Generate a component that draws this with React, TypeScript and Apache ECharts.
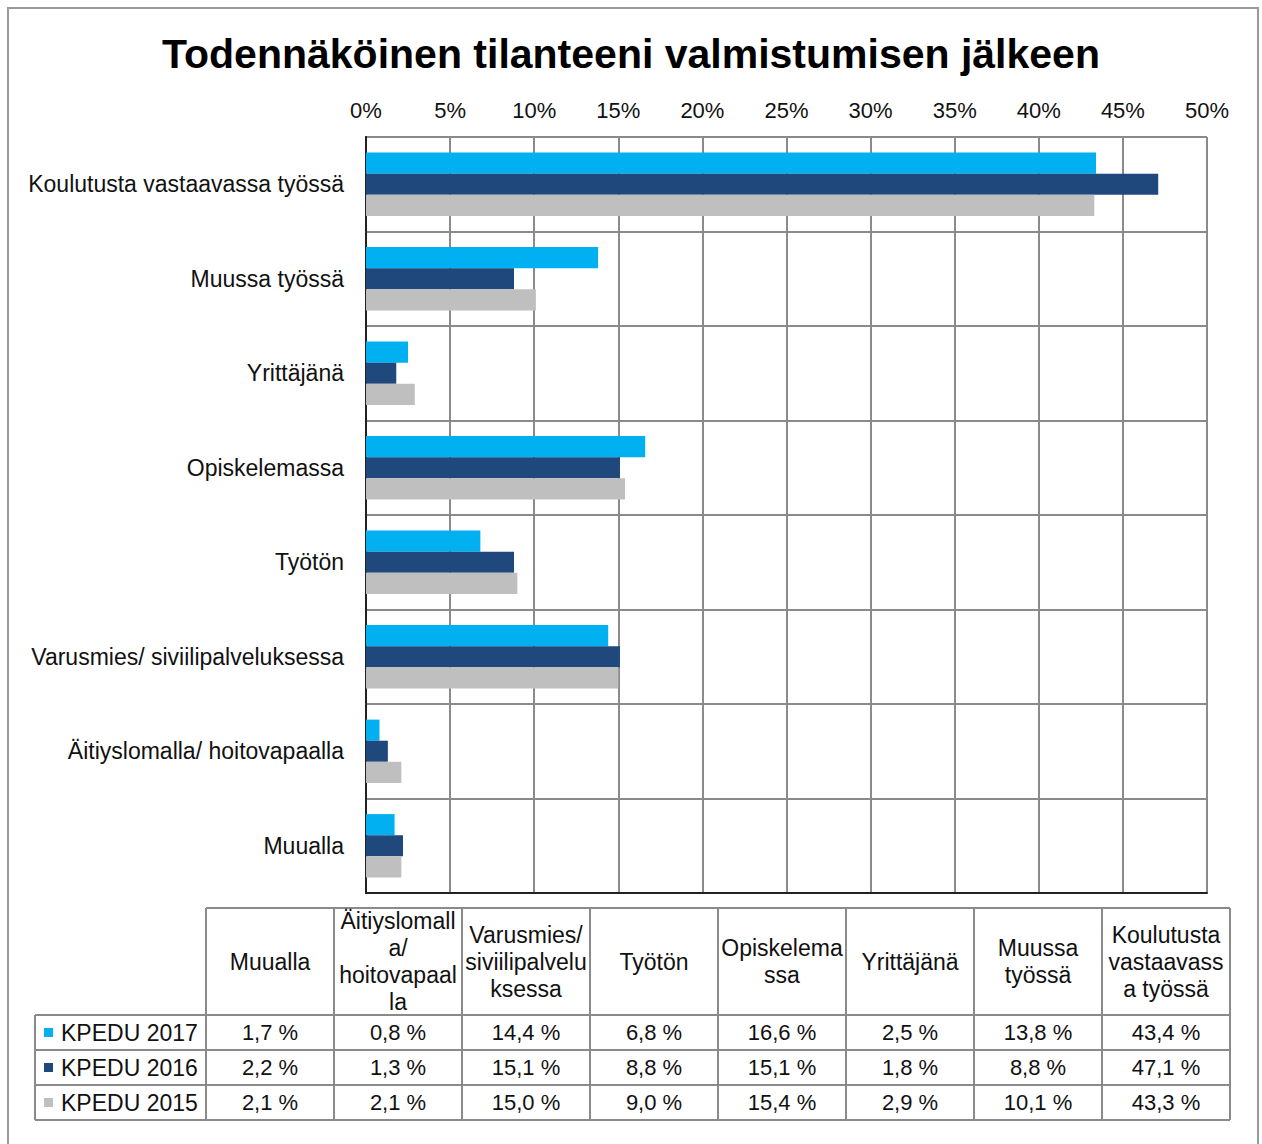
import React, { useEffect, useRef } from 'react';
import * as echarts from 'echarts';

const titleText = 'Todennäköinen tilanteeni valmistumisen jälkeen';
const categories = [
  'Muualla',
  'Äitiyslomalla/ hoitovapaalla',
  'Varusmies/ siviilipalveluksessa',
  'Työtön',
  'Opiskelemassa',
  'Yrittäjänä',
  'Muussa työssä',
  'Koulutusta vastaavassa työssä',
];
const tableHeaders = [
  'Muualla',
  'Äitiyslomall\na/\nhoitovapaal\nla',
  'Varusmies/\nsiviilipalvelu\nksessa',
  'Työtön',
  'Opiskelema\nssa',
  'Yrittäjänä',
  'Muussa\ntyössä',
  'Koulutusta\nvastaavass\na työssä',
];
const seriesNames = ['KPEDU 2017', 'KPEDU 2016', 'KPEDU 2015'];
const kpedu2017 = [1.7, 0.8, 14.4, 6.8, 16.6, 2.5, 13.8, 43.4];
const kpedu2016 = [2.2, 1.3, 15.1, 8.8, 15.1, 1.8, 8.8, 47.1];
const kpedu2015 = [2.1, 2.1, 15.0, 9.0, 15.4, 2.9, 10.1, 43.3];
const seriesColors = ['#00b0f0', '#1f497d', '#bfbfbf'];
const axisMin = 0;
const axisMax = 50;
const axisInterval = 5;

const FONT = '"Liberation Sans", Arial, Helvetica, sans-serif';
const GRID_COLOR = '#8a8a8a';
const TEXT_COLOR = '#111';

function fmt(v: number) {
  return v.toFixed(1).replace('.', ',') + ' %';
}

function buildTable() {
  const els: any[] = [];
  const tLeft = 35;
  const colStart = 206;
  const colW = 128;
  const headTop = 908;
  const headBottom = 1015;
  const rowH = 35;
  const nCols = tableHeaders.length;
  const tRight = colStart + colW * nCols;
  const tBottom = headBottom + rowH * seriesNames.length;
  const lineStyle = { stroke: GRID_COLOR, lineWidth: 2 };
  const values = [kpedu2017, kpedu2016, kpedu2015];

  els.push({ type: 'line', shape: { x1: colStart, y1: headTop, x2: tRight, y2: headTop }, style: lineStyle });
  for (let r = 0; r <= seriesNames.length; r++) {
    const y = headBottom + r * rowH;
    els.push({ type: 'line', shape: { x1: tLeft, y1: y, x2: tRight, y2: y }, style: lineStyle });
  }
  els.push({ type: 'line', shape: { x1: tLeft, y1: headBottom, x2: tLeft, y2: tBottom }, style: lineStyle });
  for (let c = 0; c <= nCols; c++) {
    const x = colStart + c * colW;
    els.push({ type: 'line', shape: { x1: x, y1: headTop, x2: x, y2: tBottom }, style: lineStyle });
  }
  tableHeaders.forEach((h, i) => {
    els.push({
      type: 'text',
      x: colStart + colW * i + colW / 2,
      y: (headTop + headBottom) / 2,
      style: {
        text: h,
        fill: TEXT_COLOR,
        font: `23px ${FONT}`,
        align: 'center',
        verticalAlign: 'middle',
        lineHeight: 27,
      },
    });
  });
  seriesNames.forEach((name, r) => {
    const cy = headBottom + r * rowH + rowH / 2;
    els.push({
      type: 'rect',
      shape: { x: 44, y: cy - 4.5, width: 9, height: 9 },
      style: { fill: seriesColors[r] },
    });
    els.push({
      type: 'text',
      x: 61,
      y: cy,
      style: { text: name, fill: TEXT_COLOR, font: `23px ${FONT}`, align: 'left', verticalAlign: 'middle' },
    });
    values[r].forEach((v, c) => {
      els.push({
        type: 'text',
        x: colStart + colW * c + colW / 2,
        y: cy,
        style: { text: fmt(v), fill: TEXT_COLOR, font: `22px ${FONT}`, align: 'center', verticalAlign: 'middle' },
      });
    });
  });
  els.push({
    type: 'rect',
    shape: { x: 8, y: 8, width: 1250, height: 1160 },
    style: { fill: 'none', stroke: '#9a9a9a', lineWidth: 2 },
  });
  return els;
}

export default function App() {
  const ref = useRef<HTMLDivElement>(null);
  useEffect(() => {
    if (!ref.current) return;
    const chart = echarts.init(ref.current, null, { renderer: 'svg' });
    const dataSets = [kpedu2017, kpedu2016, kpedu2015];
    chart.setOption({
      animation: false,
      backgroundColor: '#ffffff',
      title: {
        text: titleText,
        left: 'center',
        top: 28,
        textStyle: { fontFamily: FONT, fontSize: 41, fontWeight: 'bold', color: '#000' },
      },
      grid: { left: 366, top: 137, width: 841, height: 756, containLabel: false },
      xAxis: [
        {
          type: 'value',
          position: 'top',
          min: axisMin,
          max: axisMax,
          interval: axisInterval,
          axisLine: { show: false },
          axisTick: { show: false },
          axisLabel: { formatter: '{value}%', fontFamily: FONT, fontSize: 22, color: TEXT_COLOR, margin: 16 },
          splitLine: { show: true, lineStyle: { color: GRID_COLOR, width: 2 } },
        },
        {
          type: 'value',
          position: 'bottom',
          min: axisMin,
          max: axisMax,
          interval: axisInterval,
          axisLine: { show: true, lineStyle: { color: '#222', width: 2 } },
          axisTick: { show: false },
          axisLabel: { show: false },
          splitLine: { show: false },
        },
      ],
      yAxis: [
        {
          type: 'category',
          data: categories,
          axisLine: { show: true, lineStyle: { color: '#333', width: 2 } },
          axisTick: { show: false },
          axisLabel: { fontFamily: FONT, fontSize: 23, color: TEXT_COLOR, margin: 22 },
          splitLine: { show: true, lineStyle: { color: GRID_COLOR, width: 2 } },
        },
        {
          type: 'category',
          position: 'right',
          data: categories,
          axisLine: { show: true, lineStyle: { color: '#222', width: 2 } },
          axisTick: { show: false },
          axisLabel: { show: false },
          splitLine: { show: false },
        },
      ],
      series: seriesNames.map((name, i) => ({
        name,
        type: 'bar',
        xAxisIndex: 0,
        yAxisIndex: 0,
        data: dataSets[i],
        barGap: '0%',
        barCategoryGap: '33%',
        itemStyle: { color: seriesColors[i] },
      })),
      graphic: buildTable(),
    });
    return () => chart.dispose();
  }, []);
  return (
    <div
      ref={ref}
      style={{ position: 'absolute', left: 0, top: 0, width: 1262, height: 1144 }}
    />
  );
}
